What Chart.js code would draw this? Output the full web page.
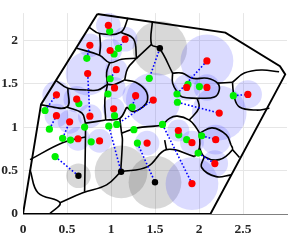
<!DOCTYPE html>
<html>
<head>
<meta charset="utf-8">
<script src="https://cdn.jsdelivr.net/npm/chart.js@4.4.1/dist/chart.umd.min.js"></script>
<style>
  html, body { margin: 0; padding: 0; background: #fff; }
  #wrap { width: 291px; height: 242px; }
</style>
</head>
<body>
<div id="wrap"><canvas id="chart"></canvas></div>
<script>
// ticks
const xTicks = [0, 0.5, 1, 1.5, 2, 2.5];
const yTicks = [0, 0.5, 1, 1.5, 2];

// red sites and the radius of their blue circle
const redPts = [
  [0.97, 2.17], [1.16, 2.01], [0.99, 1.88], [0.76, 1.94], [0.735, 1.615],
  [1.06, 1.66], [1.04, 1.45], [1.28, 1.36], [1.48, 1.31], [1.03, 1.21],
  [0.38, 1.37], [0.61, 1.32], [0.38, 1.13], [0.53, 1.06], [0.76, 1.125],
  [0.625, 0.865], [0.87, 0.84], [1.41, 0.815], [1.765, 0.96], [1.92, 0.82],
  [2.09, 1.76], [1.86, 1.455], [2.09, 1.455], [2.555, 1.375], [2.23, 1.16],
  [2.19, 0.855], [2.18, 0.58], [1.92, 0.35]
];
const redRadius = [
  0.14, 0.14, 0.135, 0.135, 0.25,
  0.125, 0.125, 0.15, 0.31, 0.125,
  0.16, 0.15, 0.135, 0.135, 0.135,
  0.135, 0.135, 0.14, 0.125, 0.135,
  0.30, 0.15, 0.15, 0.16, 0.31,
  0.17, 0.15, 0.30
];

const greenPts = [
  [0.985, 2.10], [1.085, 1.905], [1.035, 1.84], [0.725, 1.79], [0.99, 1.555],
  [0.965, 1.38], [1.24, 1.23], [1.04, 1.13], [1.435, 1.56], [0.635, 1.27],
  [0.25, 1.19], [0.30, 0.975], [0.45, 0.87], [0.54, 0.85], [0.70, 1.00],
  [0.775, 0.83], [0.975, 1.01], [1.065, 1.03], [1.26, 0.97], [1.30, 0.815],
  [1.585, 1.03], [1.77, 0.91], [1.86, 0.855], [2.03, 0.90], [1.99, 0.70],
  [1.875, 1.49], [2.005, 1.465], [1.75, 1.38], [1.755, 1.285], [2.39, 1.36],
  [0.365, 0.66]
];

// black sites and the radius of their grey circle
const blackPts = [[1.555, 1.905], [0.63, 0.44], [1.115, 0.485], [1.50, 0.365]];
const blackRadius = [0.31, 0.14, 0.30, 0.30];

// dotted links
const links = [
  [[0.725, 1.79], [0.76, 1.94]],
  [[1.085, 1.905], [1.16, 2.01]],
  [[0.735, 1.615], [0.76, 1.125]],
  [[0.25, 1.19], [0.38, 1.37]],
  [[0.30, 0.975], [0.38, 1.13]],
  [[0.45, 0.87], [0.53, 1.06]],
  [[0.99, 1.555], [1.06, 1.66]],
  [[1.24, 1.23], [1.28, 1.36]],
  [[1.48, 1.31], [1.065, 1.03]],
  [[1.555, 1.905], [1.435, 1.56]],
  [[2.09, 1.76], [1.75, 1.38]],
  [[1.755, 1.285], [2.23, 1.16]],
  [[2.39, 1.36], [2.555, 1.375]],
  [[2.03, 0.90], [2.19, 0.855]],
  [[1.99, 0.70], [2.18, 0.58]],
  [[1.585, 1.03], [1.92, 0.35]],
  [[1.30, 0.815], [1.50, 0.365]],
  [[0.975, 1.01], [1.115, 0.485]],
  [[0.365, 0.66], [0.63, 0.44]]
];

// outer region
const outline = [
  [0.845, 2.30], [2.30, 2.085], [2.92, 1.70], [2.98, 1.605], [2.13, 0],
  [0, 0], [0.205, 1.26], [0.845, 2.30]
];

// cell edges
const edges = [
  [[0.755, 2.145], [0.87, 2.075], [1.11, 2.09], [1.195, 2.255]],
  [[0.87, 2.075], [0.88, 1.94], [0.87, 1.825]],
  [[0.61, 1.905], [0.87, 1.825], [0.985, 1.74], [1.12, 1.78], [1.29, 1.79]],
  [[1.11, 2.09], [1.257, 2.01], [1.29, 1.79]],
  [[1.47, 2.22], [1.46, 1.95], [1.55, 1.905], [1.70, 1.62]],
  [[1.46, 1.95], [1.29, 1.79]],
  [[0.985, 1.74], [0.95, 1.625], [0.96, 1.49]],
  [[1.29, 1.79], [1.19, 1.675], [1.155, 1.54]],
  [[1.155, 1.54], [1.28, 1.515], [1.39, 1.425], [1.415, 1.31], [1.36, 1.23], [1.245, 1.18], [1.18, 1.23]],
  [[1.155, 1.54], [1.04, 1.49], [0.96, 1.49]],
  [[0.96, 1.49], [0.85, 1.425], [0.725, 1.425]],
  [[0.37, 1.54], [0.51, 1.445], [0.725, 1.425]],
  [[0.51, 1.445], [0.50, 1.23], [0.205, 1.255]],
  [[0.50, 1.23], [0.67, 1.16], [0.71, 1.045]],
  [[0.96, 1.49], [0.93, 1.31], [0.94, 1.08]],
  [[1.18, 1.23], [1.10, 1.10], [0.94, 1.08]],
  [[1.10, 1.10], [1.12, 0.93]],
  [[1.12, 0.93], [1.30, 0.99], [1.495, 1.01], [1.585, 1.02]],
  [[0.71, 1.045], [0.94, 1.08]],
  [[0.08, 0.625], [0.45, 0.82], [0.71, 0.885]],
  [[0.71, 1.045], [0.71, 0.885], [0.70, 0.255]],
  [[0.08, 0.51], [0.17, 0.245], [0.42, 0.13], [0.30, 0]],
  [[0.42, 0.13], [0.68, 0.245], [0.95, 0.335], [1.11, 0.485]],
  [[1.11, 0.485], [1.13, 0.85], [1.12, 0.93]],
  [[1.11, 0.485], [1.415, 0.545], [1.63, 0.74], [1.95, 0.66]],
  [[1.63, 0.74], [1.61, 0.85]],
  [[1.70, 1.62], [1.81, 1.62], [1.925, 1.56], [2.095, 1.56], [2.21, 1.505], [2.23, 1.425], [2.175, 1.345], [1.98, 1.33]],
  [[1.70, 1.62], [1.70, 1.505], [1.755, 1.40], [1.81, 1.345], [1.98, 1.33]],
  [[2.21, 1.505], [2.38, 1.515]],
  [[2.38, 1.515], [2.40, 1.345], [2.46, 1.23], [2.65, 1.195], [2.80, 1.215]],
  [[2.38, 1.515], [2.515, 1.62], [2.705, 1.655], [2.91, 1.635]],
  [[1.585, 1.02], [1.665, 1.10], [1.755, 1.125], [1.89, 1.08], [1.97, 0.99], [2.005, 0.93]],
  [[2.005, 0.93], [2.15, 0.99], [2.31, 0.91], [2.365, 0.795]],
  [[2.365, 0.795], [2.38, 0.74], [2.23, 0.625], [2.06, 0.66], [2.005, 0.76]],
  [[2.06, 0.66], [2.03, 0.535], [2.195, 0.43], [2.365, 0.45]],
  [[2.38, 0.74], [2.46, 0.65]],
  [[2.005, 0.93], [2.005, 0.76], [1.95, 0.66]],
  [[1.98, 1.33], [2.00, 1.22], [1.89, 1.08]]
];

const toXY = (p) => ({ x: p[0], y: p[1] });
// px per data unit
const unitPx = (chart) => {
  const s = chart.scales.x;
  return s.getPixelForValue(1) - s.getPixelForValue(0);
};

const datasets = [];

datasets.push({
  data: blackPts.map(toXY), pointRadius: 3.2, pointBackgroundColor: '#000',
  pointBorderWidth: 0, showLine: false, order: 0
});
datasets.push({
  data: redPts.map(toXY), pointRadius: 3.6, pointBackgroundColor: '#ff0000',
  pointBorderWidth: 0, showLine: false, order: 0
});
datasets.push({
  data: greenPts.map(toXY), pointRadius: 3.6, pointBackgroundColor: '#00f000',
  pointBorderWidth: 0, showLine: false, order: 0
});

links.forEach((l) => {
  datasets.push({
    data: l.map(toXY), showLine: true, pointRadius: 0, borderColor: '#0000ff',
    borderWidth: 1.6, borderDash: [1.6, 2], order: 1
  });
});

edges.forEach((e) => {
  datasets.push({
    data: e.map(toXY), showLine: true, pointRadius: 0, borderColor: '#000',
    borderWidth: 1.6, tension: 0.4, order: 2
  });
});
datasets.push({
  data: outline.map(toXY), showLine: true, pointRadius: 0, borderColor: '#000',
  borderWidth: 1.9, tension: 0, order: 2
});

datasets.push({
  data: redPts.map(toXY), showLine: false, order: 3,
  pointRadius: (ctx) => redRadius[ctx.dataIndex] * unitPx(ctx.chart),
  pointBackgroundColor: 'rgba(40,40,255,0.17)', pointBorderWidth: 0
});
datasets.push({
  data: blackPts.map(toXY), showLine: false, order: 3,
  pointRadius: (ctx) => blackRadius[ctx.dataIndex] * unitPx(ctx.chart),
  pointBackgroundColor: 'rgba(60,60,60,0.2)', pointBorderWidth: 0
});

const tickFont = { family: '"Liberation Serif", "DejaVu Serif", serif', size: 13.5, weight: 'bold' };

new Chart(document.getElementById('chart'), {
  type: 'scatter',
  data: { datasets },
  options: {
    animation: false,
    responsive: true,
    maintainAspectRatio: false,
    events: [],
    layout: { padding: { top: 12, right: 4, left: 0, bottom: 0 } },
    plugins: { legend: { display: false }, tooltip: { enabled: false } },
    elements: { line: { fill: false } },
    scales: {
      x: {
        type: 'linear', min: 0, max: 3,
        afterBuildTicks: (s) => { s.ticks = xTicks.map((v) => ({ value: v })); },
        afterFit: (s) => { s.height = 28; },
        ticks: { color: '#262626', font: tickFont, padding: 7, maxRotation: 0,
          callback: (v) => String(v) },
        grid: { color: '#e6e6e6', drawTicks: false },
        border: { color: '#808080', width: 1 }
      },
      y: {
        type: 'linear', min: 0, max: 2.31,
        afterBuildTicks: (s) => { s.ticks = yTicks.map((v) => ({ value: v })); },
        afterFit: (s) => { s.width = 23; },
        ticks: { color: '#262626', font: tickFont, padding: 5,
          callback: (v) => String(v) },
        grid: { color: '#e6e6e6', drawTicks: false },
        border: { display: false }
      }
    }
  }
});
</script>
</body>
</html>
